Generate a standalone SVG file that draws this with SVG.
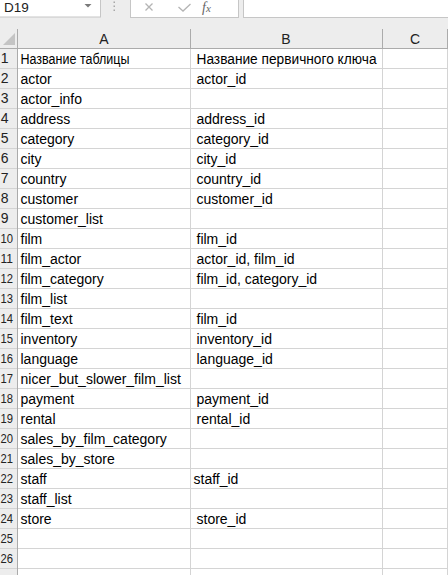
<svg xmlns="http://www.w3.org/2000/svg" width="448" height="575" viewBox="0 0 448 575">
<style>
.bg{fill:#ededed}
.box{fill:#ffffff;stroke:#c6c6c6;stroke-width:1}
.grid{stroke:#d4d4d4;stroke-width:1}
.hdr{stroke:#ababab;stroke-width:1}
.t{font-family:"Liberation Sans",Arial,sans-serif;font-size:14px;fill:#000}
.rn{font-family:"Liberation Sans",Arial,sans-serif;font-size:14px;fill:#222;text-anchor:middle}
.rn2{font-family:"Liberation Sans",Arial,sans-serif;font-size:13.5px;fill:#222}
.ch{font-family:"Liberation Sans",Arial,sans-serif;font-size:14px;fill:#222;text-anchor:middle}
.icon{stroke:#b4b4b4;stroke-width:1.3;fill:none}
</style>
<g id="background">
<rect x="0" y="0" width="448" height="575" class="bg"/>
<rect x="18" y="49" width="430" height="526" fill="#ffffff"/>
</g>
<g id="toolbar">
<rect x="-1" y="-1" width="101.5" height="18" class="box"/>
<text x="4" y="12" font-family="Liberation Sans,Arial,sans-serif" font-size="13.5" fill="#222">D19</text>
<polygon points="84.5,4 91.5,4 88,7.5" fill="#7a7a7a"/>
<rect x="113.5" y="1.5" width="1.5" height="1.5" fill="#a8a8a8"/>
<rect x="113.5" y="5.5" width="1.5" height="1.5" fill="#a8a8a8"/>
<rect x="113.5" y="9.5" width="1.5" height="1.5" fill="#a8a8a8"/>
<rect x="130.5" y="-1" width="108" height="18.5" class="box"/>
<path d="M145.5,3.5 L152.5,10.5 M152.5,3.5 L145.5,10.5" class="icon"/>
<path d="M178.5,7 L183,11 L190.5,4" class="icon"/>
<text x="202" y="11.5" font-family="Liberation Serif,serif" font-style="italic" font-size="14" fill="#666">f<tspan font-size="11">x</tspan></text>
<rect x="243.5" y="-1" width="206" height="18.5" class="box"/>
</g>
<g id="column-headers">
<polygon points="15,33 15,45 3,45" fill="#c4c4c4"/>
<line x1="17.5" y1="29" x2="17.5" y2="575" class="hdr"/>
<line x1="190.5" y1="29" x2="190.5" y2="48" class="hdr"/>
<line x1="382.5" y1="29" x2="382.5" y2="48" class="hdr"/>
<line x1="447.5" y1="29" x2="447.5" y2="48" class="hdr"/>
<line x1="0" y1="48.5" x2="448" y2="48.5" class="hdr"/>
<text x="104" y="44" class="ch">A</text>
<text x="286" y="44" class="ch">B</text>
<text x="415" y="44" class="ch">C</text>
</g>
<g id="gridlines">
<path class="grid" d="M0,68.5H448M0,88.5H448M0,108.5H448M0,128.5H448M0,148.5H448M0,168.5H448M0,188.5H448M0,208.5H448M0,228.5H448M0,248.5H448M0,268.5H448M0,288.5H448M0,308.5H448M0,328.5H448M0,348.5H448M0,368.5H448M0,388.5H448M0,408.5H448M0,428.5H448M0,448.5H448M0,468.5H448M0,488.5H448M0,508.5H448M0,528.5H448M0,548.5H448M0,568.5H448"/>
<path class="grid" d="M190.5,49V575M382.5,49V575M447.5,49V575"/>
<line x1="17.5" y1="49" x2="17.5" y2="575" class="hdr"/>
</g>
<g id="row-numbers">
<text x="4.7" y="63" class="rn">1</text>
<text x="4.7" y="83" class="rn">2</text>
<text x="4.7" y="103" class="rn">3</text>
<text x="4.7" y="123" class="rn">4</text>
<text x="4.7" y="143" class="rn">5</text>
<text x="4.7" y="163" class="rn">6</text>
<text x="4.7" y="183" class="rn">7</text>
<text x="4.7" y="203" class="rn">8</text>
<text x="4.7" y="223" class="rn">9</text>
<text x="0.5" y="243" class="rn2" textLength="12.5" lengthAdjust="spacingAndGlyphs">10</text>
<text x="0.5" y="263" class="rn2" textLength="12.5" lengthAdjust="spacingAndGlyphs">11</text>
<text x="0.5" y="283" class="rn2" textLength="12.5" lengthAdjust="spacingAndGlyphs">12</text>
<text x="0.5" y="303" class="rn2" textLength="12.5" lengthAdjust="spacingAndGlyphs">13</text>
<text x="0.5" y="323" class="rn2" textLength="12.5" lengthAdjust="spacingAndGlyphs">14</text>
<text x="0.5" y="343" class="rn2" textLength="12.5" lengthAdjust="spacingAndGlyphs">15</text>
<text x="0.5" y="363" class="rn2" textLength="12.5" lengthAdjust="spacingAndGlyphs">16</text>
<text x="0.5" y="383" class="rn2" textLength="12.5" lengthAdjust="spacingAndGlyphs">17</text>
<text x="0.5" y="403" class="rn2" textLength="12.5" lengthAdjust="spacingAndGlyphs">18</text>
<text x="0.5" y="423" class="rn2" textLength="12.5" lengthAdjust="spacingAndGlyphs">19</text>
<text x="0.5" y="443" class="rn2" textLength="12.5" lengthAdjust="spacingAndGlyphs">20</text>
<text x="0.5" y="463" class="rn2" textLength="12.5" lengthAdjust="spacingAndGlyphs">21</text>
<text x="0.5" y="483" class="rn2" textLength="12.5" lengthAdjust="spacingAndGlyphs">22</text>
<text x="0.5" y="503" class="rn2" textLength="12.5" lengthAdjust="spacingAndGlyphs">23</text>
<text x="0.5" y="523" class="rn2" textLength="12.5" lengthAdjust="spacingAndGlyphs">24</text>
<text x="0.5" y="543" class="rn2" textLength="12.5" lengthAdjust="spacingAndGlyphs">25</text>
<text x="0.5" y="563" class="rn2" textLength="12.5" lengthAdjust="spacingAndGlyphs">26</text>
</g>
<g id="column-A">
<text x="20.5" y="63.5" class="t" textLength="109" lengthAdjust="spacingAndGlyphs">Название таблицы</text>
<text x="20.5" y="83.5" class="t">actor</text>
<text x="20.5" y="103.5" class="t">actor_info</text>
<text x="20.5" y="123.5" class="t">address</text>
<text x="20.5" y="143.5" class="t">category</text>
<text x="20.5" y="163.5" class="t">city</text>
<text x="20.5" y="183.5" class="t">country</text>
<text x="20.5" y="203.5" class="t">customer</text>
<text x="20.5" y="223.5" class="t">customer_list</text>
<text x="20.5" y="243.5" class="t">film</text>
<text x="20.5" y="263.5" class="t">film_actor</text>
<text x="20.5" y="283.5" class="t">film_category</text>
<text x="20.5" y="303.5" class="t">film_list</text>
<text x="20.5" y="323.5" class="t">film_text</text>
<text x="20.5" y="343.5" class="t">inventory</text>
<text x="20.5" y="363.5" class="t">language</text>
<text x="20.5" y="383.5" class="t">nicer_but_slower_film_list</text>
<text x="20.5" y="403.5" class="t">payment</text>
<text x="20.5" y="423.5" class="t">rental</text>
<text x="20.5" y="443.5" class="t">sales_by_film_category</text>
<text x="20.5" y="463.5" class="t">sales_by_store</text>
<text x="20.5" y="483.5" class="t">staff</text>
<text x="20.5" y="503.5" class="t">staff_list</text>
<text x="20.5" y="523.5" class="t">store</text>
</g>
<g id="column-B">
<text x="196.5" y="63.5" class="t" textLength="180" lengthAdjust="spacingAndGlyphs">Название первичного ключа</text>
<text x="196.5" y="83.5" class="t">actor_id</text>
<text x="196.5" y="123.5" class="t">address_id</text>
<text x="196.5" y="143.5" class="t">category_id</text>
<text x="196.5" y="163.5" class="t">city_id</text>
<text x="196.5" y="183.5" class="t">country_id</text>
<text x="196.5" y="203.5" class="t">customer_id</text>
<text x="196.5" y="243.5" class="t">film_id</text>
<text x="196.5" y="263.5" class="t">actor_id, film_id</text>
<text x="196.5" y="283.5" class="t">film_id, category_id</text>
<text x="196.5" y="323.5" class="t">film_id</text>
<text x="196.5" y="343.5" class="t">inventory_id</text>
<text x="196.5" y="363.5" class="t">language_id</text>
<text x="196.5" y="403.5" class="t">payment_id</text>
<text x="196.5" y="423.5" class="t">rental_id</text>
<text x="193.5" y="483.5" class="t">staff_id</text>
<text x="196.5" y="523.5" class="t">store_id</text>
</g>
</svg>
